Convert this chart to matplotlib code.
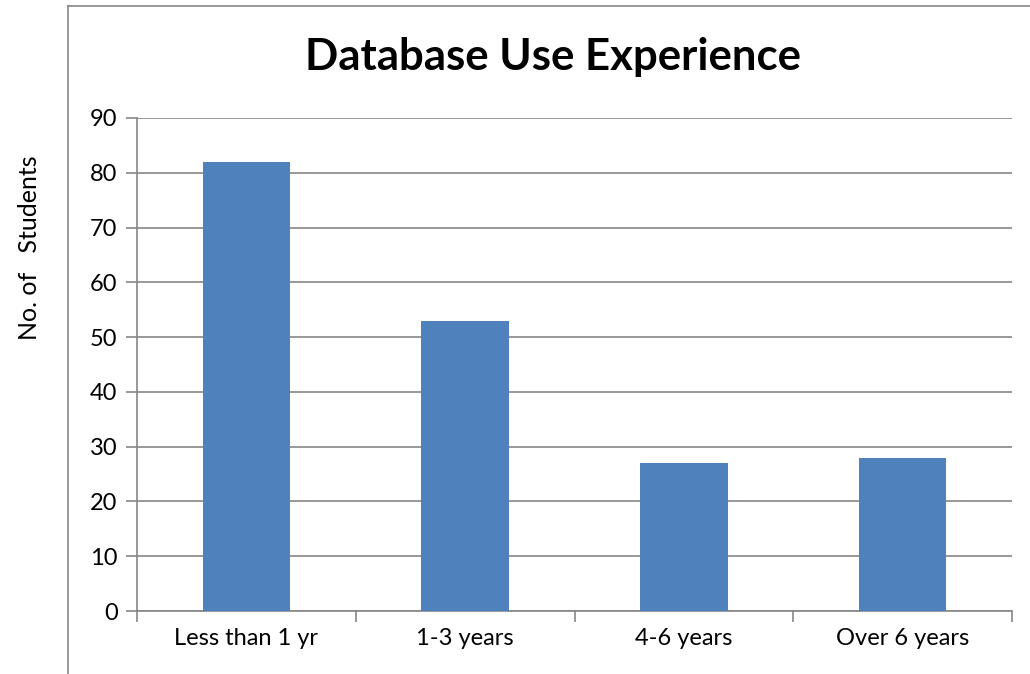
import matplotlib.pyplot as plt
from matplotlib.lines import Line2D

categories = ["Less than 1 yr", "1-3 years", "4-6 years", "Over 6 years"]
students = [82, 53, 27, 28]
yticks = [0, 10, 20, 30, 40, 50, 60, 70, 80, 90]

plt.rcParams['font.family'] = ['Lato', 'DejaVu Sans']

W, H = 1030, 674
fig = plt.figure(figsize=(W / 100, H / 100), dpi=100)

# axes box in pixels: left 137, right 1012, top 118, bottom 611
ax = fig.add_axes([137 / W, 1 - 611 / H, (1012 - 137) / W, (611 - 118) / H])

grey = '#868686'
x = range(len(categories))
ax.bar(x, students, width=0.4, color='#4F81BD', zorder=3)

ax.set_xlim(-0.5, len(categories) - 0.5)
ax.set_ylim(0, 90)
ax.set_yticks(yticks)
ax.set_yticklabels([str(v) for v in yticks], fontsize=17)
ax.yaxis.grid(True, color=grey, linewidth=1.2, zorder=0)

ax.set_xticks([i - 0.5 for i in range(len(categories) + 1)])
ax.set_xticklabels([])
ax.set_xticks(list(x), minor=True)
ax.set_xticklabels(categories, minor=True, fontsize=17)
ax.tick_params(axis='x', which='minor', length=0, pad=12)
ax.tick_params(axis='x', which='major', length=8, width=1.2, color=grey)
ax.tick_params(axis='y', length=8, width=1.2, color=grey, pad=6)

for side in ['top', 'right']:
    ax.spines[side].set_visible(False)
for side in ['left', 'bottom']:
    ax.spines[side].set_color(grey)
    ax.spines[side].set_linewidth(1.2)

fig.text(553 / W, 1 - 57 / H, "Database Use Experience", ha='center', va='center',
         fontsize=31.5, fontweight='bold')
fig.text(30 / W, 1 - 248 / H, "No. of   Students", rotation=90, ha='center', va='center',
         fontsize=18)

# outer chart frame (left and top edges visible)
fig.add_artist(Line2D([68 / W, 68 / W], [0, 1 - 6 / H], color=grey, linewidth=1.2))
fig.add_artist(Line2D([68 / W, 1], [1 - 6 / H, 1 - 6 / H], color=grey, linewidth=1.2))

fig.savefig("out.png", dpi=100)
